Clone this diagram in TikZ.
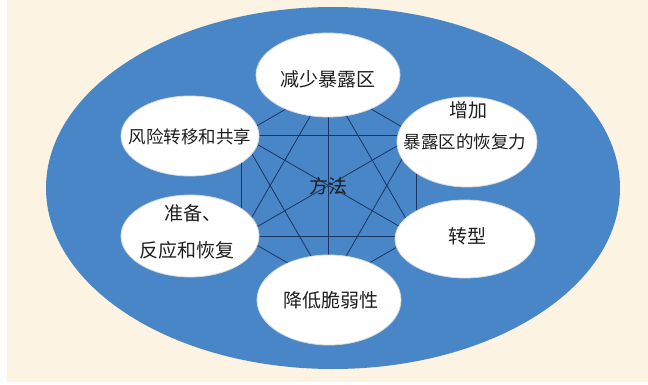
\documentclass[tikz,border=0pt]{standalone}
\usepackage{fontspec}
\newfontfamily\cjk{Noto Sans CJK SC}
\usetikzlibrary{shapes.geometric}
\definecolor{bgcream}{RGB}{253,243,226}
\definecolor{bigblue}{RGB}{72,134,200}
\definecolor{linenavy}{RGB}{28,52,98}
\definecolor{txt}{RGB}{30,30,30}
\begin{document}
\begin{tikzpicture}[x=1pt,y=-1pt,
  bubble/.style={ellipse, fill=white, draw=gray!30, line width=0.8pt, inner sep=0pt},
  lbl/.style={font=\cjk\fontsize{19}{22}\selectfont, text=txt, inner sep=0pt},
  lbls/.style={font=\cjk\fontsize{17.5}{21}\selectfont, text=txt, inner sep=0pt},
  link/.style={draw=linenavy, line width=0.8pt}]
\useasboundingbox (0,0) rectangle (648,385);
\fill[white] (0,0) rectangle (648,385);
\fill[bgcream] (7,0) rectangle (648,382);
\fill[bigblue] (333,188) ellipse [x radius=287pt, y radius=181pt];
% hexagon vertices
\coordinate (h1) at (328.5,84.5);
\coordinate (h2) at (416,135);
\coordinate (h3) at (416,236);
\coordinate (h4) at (328.5,286.5);
\coordinate (h5) at (241,236);
\coordinate (h6) at (241,135);
\foreach \a/\b in {h1/h2,h1/h3,h1/h4,h1/h5,h1/h6,h2/h3,h2/h4,h2/h5,h2/h6,h3/h4,h3/h5,h3/h6,h4/h5,h4/h6,h5/h6}
  \draw[link] (\a) -- (\b);
\node[lbl] (center) at (328,186) {方法};
% bubbles
\node[bubble, minimum width=144pt, minimum height=84pt] (top) at (328,75) {};
\node[bubble, minimum width=140pt, minimum height=90pt] (ur) at (467,142) {};
\node[bubble, minimum width=140pt, minimum height=78pt] (lr) at (465,239) {};
\node[bubble, minimum width=144pt, minimum height=90pt] (bot) at (329,300) {};
\node[bubble, minimum width=138pt, minimum height=82pt] (ll) at (190,236) {};
\node[bubble, minimum width=138pt, minimum height=80pt] (ul) at (190,136) {};
% texts
\node[lbl] (ttop) at (328,79) {减少暴露区};
\node[lbl] (tur1) at (468,110) {增加};
\node[lbls] (tur2) at (465,142) {暴露区的恢复力};
\node[lbl] (tlr) at (467,236) {转型};
\node[lbl] (tbot) at (331,300) {降低脆弱性};
\node[lbl] (tll1) at (193,213) {准备、};
\node[lbl] (tll2) at (187,250) {反应和恢复};
\node[lbls] (tul) at (190,137) {风险转移和共享};
\end{tikzpicture}
\end{document}
